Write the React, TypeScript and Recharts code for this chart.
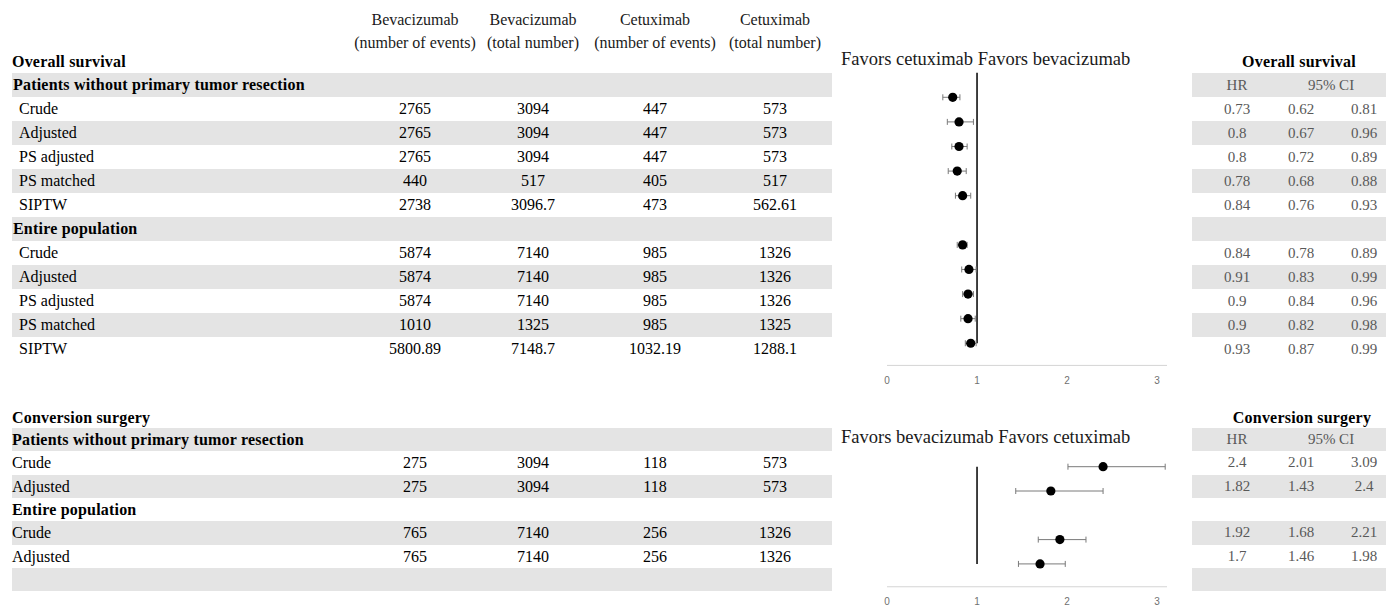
import React from 'react';
import { ScatterChart, Scatter, XAxis, YAxis, ErrorBar, ReferenceLine } from 'recharts';

const columnTitles = ['Bevacizumab', 'Bevacizumab', 'Cetuximab', 'Cetuximab'];
const columnSubtitles = ['(number of events)', '(total number)', '(number of events)', '(total number)'];

// overall survival block, null marks a heading row
const osLabels = ['Patients without primary tumor resection', 'Crude', 'Adjusted', 'PS adjusted', 'PS matched', 'SIPTW',
  'Entire population', 'Crude', 'Adjusted', 'PS adjusted', 'PS matched', 'SIPTW'];
const osBevEvents = [null, 2765, 2765, 2765, 440, 2738, null, 5874, 5874, 5874, 1010, 5800.89];
const osBevTotal = [null, 3094, 3094, 3094, 517, 3096.7, null, 7140, 7140, 7140, 1325, 7148.7];
const osCetEvents = [null, 447, 447, 447, 405, 473, null, 985, 985, 985, 985, 1032.19];
const osCetTotal = [null, 573, 573, 573, 517, 562.61, null, 1326, 1326, 1326, 1325, 1288.1];
const osHR = [null, 0.73, 0.8, 0.8, 0.78, 0.84, null, 0.84, 0.91, 0.9, 0.9, 0.93];
const osLow = [null, 0.62, 0.67, 0.72, 0.68, 0.76, null, 0.78, 0.83, 0.84, 0.82, 0.87];
const osHigh = [null, 0.81, 0.96, 0.89, 0.88, 0.93, null, 0.89, 0.99, 0.96, 0.98, 0.99];

// conversion surgery block
const csLabels = ['Patients without primary tumor resection', 'Crude', 'Adjusted', 'Entire population', 'Crude', 'Adjusted', ''];
const csBevEvents = [null, 275, 275, null, 765, 765, null];
const csBevTotal = [null, 3094, 3094, null, 7140, 7140, null];
const csCetEvents = [null, 118, 118, null, 256, 256, null];
const csCetTotal = [null, 573, 573, null, 1326, 1326, null];
const csHR = [null, 2.4, 1.82, null, 1.92, 1.7, null];
const csLow = [null, 2.01, 1.43, null, 1.68, 1.46, null];
const csHigh = [null, 3.09, 2.4, null, 2.21, 1.98, null];

const hrTicks = [0, 1, 2, 3];

const SERIF = '"Times New Roman", "Liberation Serif", serif';
const GRAY = '#e4e4e4';
const valueCols = [415, 533, 655, 775];
const ciCols = [1237, 1301, 1364];

const toForest = (hr, lo, hi) =>
  hr.map((v, i) => (v == null ? null : { row: i, hr: v, err: [v - lo[i], hi[i] - v] })).filter(Boolean);

const Dot = (props: any) => <circle cx={props.cx} cy={props.cy} r={4.6} fill="#000" />;

const Forest = ({ data, top, height, mTop, mBottom, yDomain, lineFrom, lineTo }: any) => (
  <div style={{ position: 'absolute', left: 880, top, width: 300, height }}>
    <ScatterChart width={300} height={height} margin={{ top: mTop, right: 13, bottom: mBottom, left: 7 }}>
      <XAxis
        type="number"
        dataKey="hr"
        domain={[0, 3.11]}
        ticks={hrTicks}
        height={20}
        tickLine={false}
        tickMargin={5}
        axisLine={{ stroke: '#d4d4d4' }}
        tick={{ fill: '#707070', fontSize: 10, fontFamily: '"Liberation Sans", Arial, sans-serif' }}
      />
      <YAxis type="number" dataKey="row" domain={yDomain} reversed hide />
      <ReferenceLine segment={[{ x: 1, y: lineFrom }, { x: 1, y: lineTo }]} stroke="#000" strokeWidth={1.5} />
      <Scatter data={data} isAnimationActive={false} shape={Dot}>
        <ErrorBar dataKey="err" direction="x" width={3} stroke="#7a7a7a" strokeWidth={1} />
      </Scatter>
    </ScatterChart>
  </div>
);

const cellStyle = (cx: number, left: number): React.CSSProperties => ({
  position: 'absolute',
  left: cx - left - 60,
  width: 120,
  textAlign: 'center',
});

const LeftBlock = ({ labels, cols, start, step, headIndent, rowIndent }: any) => (
  <>
    {labels.map((label: string, i: number) => {
      const heading = cols[0][i] == null;
      return (
        <div
          key={i}
          style={{
            position: 'absolute', left: 12, top: start + step * i, width: 820, height: step,
            lineHeight: step + 'px', background: i % 2 === 0 ? GRAY : 'transparent',
          }}
        >
          <span
            style={{
              position: 'absolute', left: heading ? headIndent : rowIndent,
              fontWeight: heading ? 'bold' : 'normal', letterSpacing: heading ? 0.2 : 0,
            }}
          >
            {label}
          </span>
          {cols.map((c: any[], j: number) =>
            c[i] == null ? null : (
              <span key={j} style={cellStyle(valueCols[j], 12)}>{String(c[i])}</span>
            )
          )}
        </div>
      );
    })}
  </>
);

const RightBlock = ({ hr, lo, hi, start, step }: any) => (
  <>
    {hr.map((v: number | null, i: number) => (
      <div
        key={i}
        style={{
          position: 'absolute', left: 1192, top: start + step * i, width: 194, height: step,
          lineHeight: step + 'px', background: i % 2 === 0 ? GRAY : 'transparent', color: '#595959', fontSize: 15,
        }}
      >
        {i === 0 ? (
          <>
            <span style={cellStyle(ciCols[0], 1192)}>HR</span>
            <span style={cellStyle(1331, 1192)}>95% CI</span>
          </>
        ) : v == null ? null : (
          <>
            <span style={cellStyle(ciCols[0], 1192)}>{String(v)}</span>
            <span style={cellStyle(ciCols[1], 1192)}>{String(lo[i])}</span>
            <span style={cellStyle(ciCols[2], 1192)}>{String(hi[i])}</span>
          </>
        )}
      </div>
    ))}
  </>
);

const boldTitle = (text: string, left: number, top: number, width: number, align: any = 'left') => (
  <div
    style={{
      position: 'absolute', left, top, width, height: 24, lineHeight: '24px',
      fontWeight: 'bold', letterSpacing: 0.2, textAlign: align,
    }}
  >
    {text}
  </div>
);

export default function App() {
  const osCols = [osBevEvents, osBevTotal, osCetEvents, osCetTotal];
  const csCols = [csBevEvents, csBevTotal, csCetEvents, csCetTotal];
  return (
    <div
      style={{
        position: 'absolute', left: 0, top: 0, width: 1386, height: 607, overflow: 'hidden',
        background: '#fff', fontFamily: SERIF, fontSize: 16, color: '#000',
      }}
    >
      {columnTitles.map((t, j) => (
        <div key={j} style={{ position: 'absolute', left: valueCols[j] - 80, top: 8, width: 160, textAlign: 'center', lineHeight: '23px', color: '#1a1a1a' }}>
          {t}
          <br />
          {columnSubtitles[j]}
        </div>
      ))}

      {boldTitle('Overall survival', 12, 50, 300)}
      <LeftBlock labels={osLabels} cols={osCols} start={72.5} step={24} headIndent={1} rowIndent={7} />

      {boldTitle('Conversion surgery', 12, 406, 300)}
      <LeftBlock labels={csLabels} cols={csCols} start={428} step={23.33} headIndent={0} rowIndent={0} />

      <div style={{ position: 'absolute', left: 841, top: 48, fontSize: 18.5, lineHeight: '22px', color: '#1a1a1a', whiteSpace: 'nowrap' }}>
        Favors cetuximab Favors bevacizumab
      </div>
      <Forest
        data={toForest(osHR, osLow, osHigh)}
        top={60}
        height={340}
        mTop={12.7}
        mBottom={14.6}
        yDomain={[0, 11.9]}
        lineFrom={0}
        lineTo={11}
      />

      <div style={{ position: 'absolute', left: 841, top: 426, fontSize: 18.5, lineHeight: '22px', color: '#1a1a1a', whiteSpace: 'nowrap' }}>
        Favors bevacizumab Favors cetuximab
      </div>
      <Forest
        data={toForest(csHR, csLow, csHigh)}
        top={440}
        height={170}
        mTop={14.55}
        mBottom={3.25}
        yDomain={[0.5, 5.94]}
        lineFrom={1}
        lineTo={5}
      />

      {boldTitle('Overall survival', 1199, 50, 200, 'center')}
      <RightBlock hr={osHR} lo={osLow} hi={osHigh} start={72.5} step={24} />

      {boldTitle('Conversion surgery', 1202, 406, 200, 'center')}
      <RightBlock hr={csHR} lo={csLow} hi={csHigh} start={428} step={23.33} />
    </div>
  );
}
